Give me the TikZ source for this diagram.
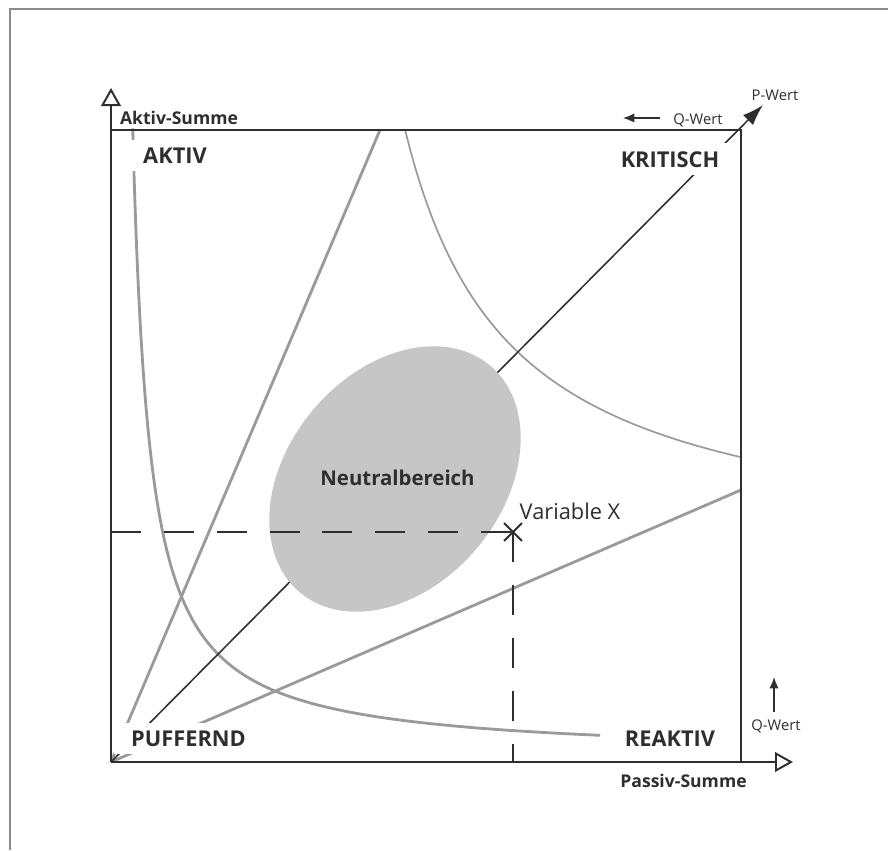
\documentclass[tikz,border=0pt]{standalone}
\usepackage{fontspec}
\setmainfont{Open Sans}
\usetikzlibrary{arrows.meta,shapes.misc}
\definecolor{curvegray}{HTML}{9A9A9A}
\definecolor{blobgray}{HTML}{C6C6C6}
\definecolor{inkgray}{HTML}{2E2E2E}
\definecolor{framegray}{HTML}{8C8C8C}
\tikzset{
  axisline/.style={line width=1.4pt, draw=inkgray},
  curve/.style={line width=2pt, draw=curvegray},
  thincurve/.style={line width=1.2pt, draw=curvegray},
  guide/.style={line width=1.4pt, draw=inkgray, dash pattern=on 21.3pt off 16.3pt},
  region/.style={fill=white, inner xsep=12pt, inner ysep=5.5pt, anchor=base, text=inkgray,
    font=\fontsize{15.5}{18}\selectfont\bfseries},
  axislabel/.style={anchor=base, inner sep=0pt, text=inkgray, font=\fontsize{12.5}{15}\selectfont\bfseries},
  smalllabel/.style={anchor=base, inner sep=0pt, text=inkgray, font=\fontsize{10.5}{13}\selectfont},
  openhead/.style={-{Triangle[open,length=12.8pt,width=14pt]}},
  smallhead/.style={-{Latex[length=8pt,width=6.5pt]}},
}
\begin{document}
\begin{tikzpicture}[x=0.025cm, y=-0.025cm]
\useasboundingbox (0,0) rectangle (888,850);
\draw[framegray, line width=0.8pt] (10,850) -- (10,9) -- (888,9);

\coordinate (O) at (111,762);
\coordinate (NW) at (111,130);
\coordinate (NE) at (741,130);
\coordinate (SE) at (741,762);
\coordinate (ytip) at (111,88);
\coordinate (xtip) at (793,762);
\coordinate (ptip) at (763,105);
\coordinate (steep) at (380,130);
\coordinate (flat) at (741,490);
\coordinate (vx) at (513,532);
\coordinate (vxl) at (111,532);
\coordinate (vxb) at (513,762);
\coordinate (nc) at (395,479);
\coordinate (q1a) at (660,118);
\coordinate (q1b) at (623,118);
\coordinate (q2a) at (774,712);
\coordinate (q2b) at (774,677);

\draw[curve] plot[domain=0:3.367, samples=80, variable=\t] ({116+16.7*exp(\t)}, {757-628.7*exp(-\t)});
\draw[thincurve] plot[domain=405:741, samples=60] (\x, {560-454/((\x-299.5)/100)});
\draw[curve] (O) -- (steep);
\draw[curve] (O) -- (flat);
\draw[line width=1.1pt, draw=inkgray, fill=inkgray, -{Latex[length=15pt,width=10pt]}] (O) -- (ptip);

\fill[blobgray, rotate around={50:(nc)}] (nc) ellipse [x radius=3.7cm, y radius=2.68cm];

\draw[guide] (vxl) -- (vx);
\draw[guide] (vx) -- (vxb);
\node[draw=inkgray, cross out, line width=1.4pt, minimum size=0.4cm, inner sep=0pt] (xmark) at (vx) {};

\draw[axisline] (NW) -- (NE) -- (SE);
\draw[axisline, openhead] (O) -- (ytip);
\draw[axisline, openhead] (O) -- (xtip);
\draw[line width=1pt, draw=inkgray, fill=inkgray, smallhead] (q1a) -- (q1b);
\draw[line width=1pt, draw=inkgray, fill=inkgray, smallhead] (q2a) -- (q2b);

\node[axislabel] (asum) at (179,124) {Aktiv-Summe};
\node[axislabel] (psum) at (683.5,787) {Passiv-Summe};
\node[region] (aktiv) at (175,163) {AKTIV};
\node[region] (krit) at (670,167) {KRITISCH};
\node[region] (puff) at (188.5,746) {PUFFERND};
\node[region] (reak) at (670,746) {REAKTIV};
\node[anchor=base, inner sep=0pt, text=inkgray, font=\fontsize{14.5}{17}\selectfont\bfseries] (neutral) at (397.5,485) {Neutralbereich};
\node[anchor=base, inner sep=0pt, text=inkgray, font=\fontsize{15.5}{18}\selectfont] (varx) at (570,519) {Variable X};
\node[smalllabel] (qtop) at (698,124) {Q-Wert};
\node[smalllabel] (pwert) at (775,100) {P-Wert};
\node[smalllabel] (qright) at (776,730) {Q-Wert};
\end{tikzpicture}
\end{document}
